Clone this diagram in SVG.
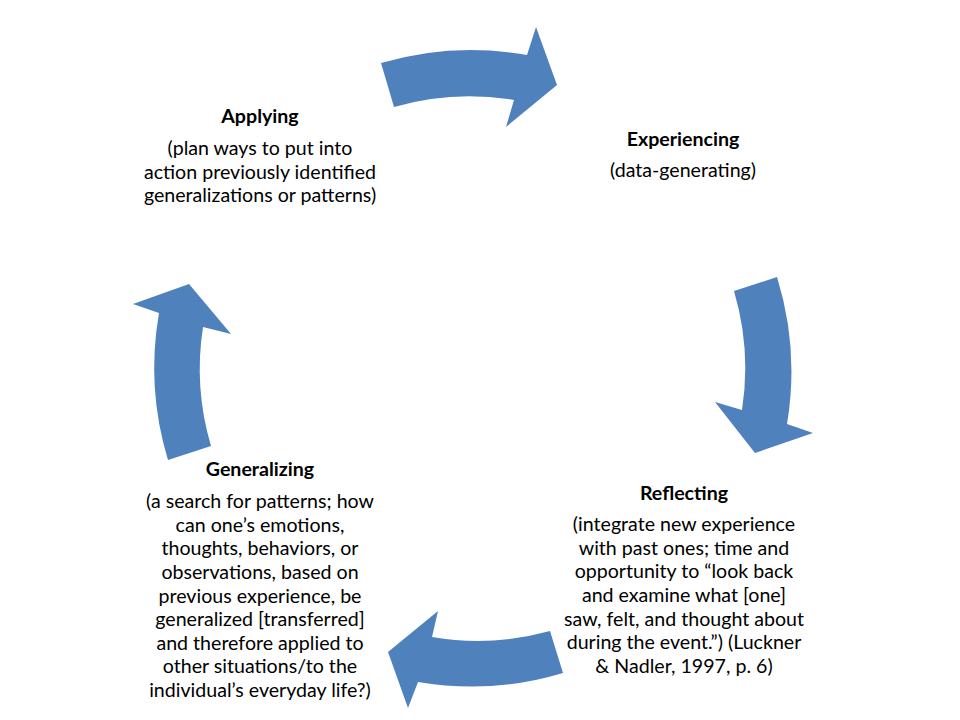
<svg xmlns="http://www.w3.org/2000/svg" width="960" height="720" viewBox="0 0 960 720">
<style>
.arrow{fill:#4F81BD;stroke:none}
text{font-family:Lato,"Liberation Sans",sans-serif;font-size:19.6px;fill:#000;text-anchor:middle}
.t{font-weight:bold}
</style>
<rect width="960" height="720" fill="#fff"/>
<g id="connectors">
<path class="arrow" d="M 381,63 A 318 318 0 0 1 527,55 L 536,27 L 557,85 L 506,127 L 514,100 A 272 272 0 0 0 394,107 Z"/>
<path class="arrow" d="M 777,277 A 318 318 0 0 1 787,424 L 813,433 L 755,453 L 715,402 L 742,410 A 272 272 0 0 0 734,291 Z"/>
<path class="arrow" d="M 563,673 A 318 318 0 0 1 418,682 L 408,708 L 388,652 L 438,611 L 432,637 A 272 272 0 0 0 550,631 Z"/>
<path class="arrow" d="M 168,460 A 318 318 0 0 1 159,313 L 133,304 L 189,284 L 231,334 L 203,327 A 272 272 0 0 0 211,446 Z"/>
</g>
<g id="applying">
<text class="t" x="260" y="123">Applying</text>
<text x="260" y="155">(plan ways to put into</text>
<text x="260" y="179">action previously identified</text>
<text x="260" y="202">generalizations or patterns)</text>
</g>
<g id="experiencing">
<text class="t" x="683" y="146">Experiencing</text>
<text x="683" y="177">(data-generating)</text>
</g>
<g id="reflecting">
<text class="t" x="684" y="500">Reflecting</text>
<text x="684" y="531">(integrate new experience</text>
<text x="684" y="555">with past ones; time and</text>
<text x="684" y="578">opportunity to “look back</text>
<text x="684" y="602">and examine what [one]</text>
<text x="684" y="626">saw, felt, and thought about</text>
<text x="684" y="649">during the event.”) (Luckner</text>
<text x="684" y="673">&amp; Nadler, 1997, p. 6)</text>
</g>
<g id="generalizing">
<text class="t" x="260" y="476">Generalizing</text>
<text x="260" y="508">(a search for patterns; how</text>
<text x="260" y="532">can one’s emotions,</text>
<text x="260" y="555">thoughts, behaviors, or</text>
<text x="260" y="579">observations, based on</text>
<text x="260" y="603">previous experience, be</text>
<text x="260" y="626">generalized [transferred]</text>
<text x="260" y="650">and therefore applied to</text>
<text x="260" y="673">other situations/to the</text>
<text x="260" y="697">individual’s everyday life?)</text>
</g>
</svg>
